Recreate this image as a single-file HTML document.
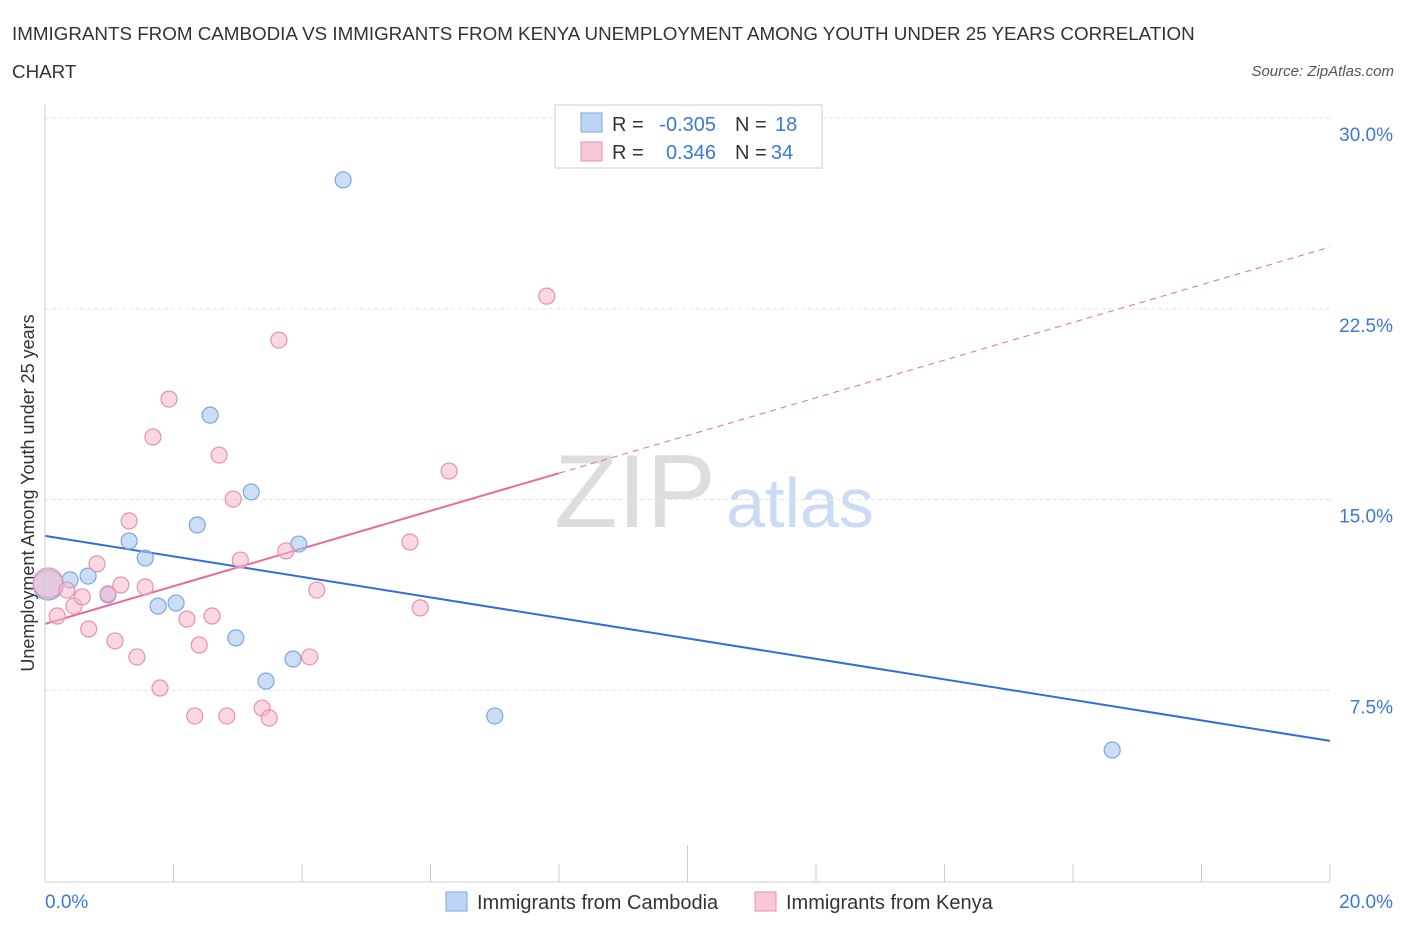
<!DOCTYPE html>
<html><head><meta charset="utf-8"><style>
body{margin:0;background:#fff;font-family:"Liberation Sans",sans-serif;}
svg text{font-family:"Liberation Sans",sans-serif;}
</style></head><body>
<svg id="c" width="1406" height="930" viewBox="0 0 1406 930">
<text x="12" y="40" font-size="18.8" fill="#333">IMMIGRANTS FROM CAMBODIA VS IMMIGRANTS FROM KENYA UNEMPLOYMENT AMONG YOUTH UNDER 25 YEARS CORRELATION</text>
<text x="12" y="78" font-size="18.8" fill="#333">CHART</text>
<text x="1394" y="76" font-size="15" fill="#555" font-style="italic" text-anchor="end">Source: ZipAtlas.com</text>
<text x="635" y="527" font-size="104" fill="#ddd" text-anchor="middle" font-family="Liberation Serif">ZIP</text>
<text x="800" y="527" font-size="70" fill="#c9dcf3" text-anchor="middle">atlas</text>
<text transform="translate(34,493) rotate(-90)" font-size="18" fill="#333" text-anchor="middle">Unemployment Among Youth under 25 years</text>
<g id="grid"></g><g id="lines"></g><g id="pts"></g>
<line x1="45" y1="105" x2="45" y2="882" stroke="#ccc"/>
<line x1="45" y1="882" x2="1330" y2="882" stroke="#ccc"/>
<text x="45" y="908" font-size="19" fill="#3b78d8">0.0%</text>
<text x="1393" y="908" font-size="19" fill="#3b78d8" text-anchor="end">20.0%</text>
<g>
<rect x="555" y="105" width="267" height="63" fill="#fff" stroke="#ccc"/>
<rect x="581" y="113" width="21" height="19" fill="#bcd5f5" stroke="#7aa7e0"/>
<rect x="581" y="142" width="21" height="19" fill="#f9c8d7" stroke="#e891ae"/>
<text x="612" y="131" font-size="20" fill="#333">R =</text>
<text x="716" y="131" font-size="20" fill="#3b78d8" text-anchor="end">-0.305</text>
<text x="735" y="131" font-size="20" fill="#333">N =</text>
<text x="775" y="131" font-size="20" fill="#3b78d8">18</text>
<text x="612" y="159" font-size="20" fill="#333">R =</text>
<text x="716" y="159" font-size="20" fill="#3b78d8" text-anchor="end">0.346</text>
<text x="735" y="159" font-size="20" fill="#333">N =</text>
<text x="771" y="159" font-size="20" fill="#3b78d8">34</text>
</g>
<g>
<rect x="446" y="892" width="21" height="19" fill="#bcd5f5" stroke="#7aa7e0"/>
<text x="477" y="909" font-size="20" fill="#333">Immigrants from Cambodia</text>
<rect x="755" y="892" width="21" height="19" fill="#f9c8d7" stroke="#e891ae"/>
<text x="786" y="909" font-size="20" fill="#333">Immigrants from Kenya</text>
</g>
</svg>
<script>
const yTicks=[7.5,15,22.5,30];
const yTickLabels=["7.5%","15.0%","22.5%","30.0%"];
const xTicks=[0,2,4,6,8,10,12,14,16,18,20];
const cambX=[0.05,0.39,0.67,0.98,1.31,1.56,1.76,2.04,2.37,2.57,2.97,3.21,3.44,3.86,3.95,4.64,7.00,16.61];
const cambY=[11.64,11.84,11.99,11.25,13.37,12.70,10.81,10.93,14.00,18.32,9.56,15.30,7.86,8.73,13.25,27.57,6.49,5.15];
const kenX=[0.05,0.19,0.34,0.45,0.58,0.68,0.81,0.98,1.09,1.18,1.31,1.43,1.56,1.68,1.79,1.93,2.21,2.33,2.40,2.60,2.71,2.83,2.93,3.04,3.38,3.49,3.64,3.75,4.12,4.23,5.68,5.84,6.29,7.81];
const kenY=[11.72,10.42,11.44,10.81,11.17,9.91,12.47,11.29,9.44,11.64,14.16,8.81,11.56,17.46,7.59,18.95,10.30,6.49,9.28,10.42,16.75,6.49,15.02,12.62,6.80,6.41,21.27,12.98,8.81,11.44,13.33,10.74,16.12,23.00];
const cambTrend=[13.57,5.51];
const kenTrend=[10.11,24.93];
const kenSolidEnd=8;
const X=v=>45+v*64.25, Y=v=>881-v*25.43;
const NS="http://www.w3.org/2000/svg";
function mk(t,a,p){const e=document.createElementNS(NS,t);for(const k in a)e.setAttribute(k,a[k]);p.appendChild(e);return e;}
const g=document.getElementById('grid'),L=document.getElementById('lines'),P=document.getElementById('pts');
yTicks.forEach((t,i)=>{
 const l=mk('line',{x1:45,x2:1330,y1:Y(t),y2:Y(t),stroke:'#e3e3e3','stroke-dasharray':'4 3'},g);
 
 
 const tx=mk('text',{x:1393,y:Y(t)+23,'font-size':19,fill:'#3b78d8','text-anchor':'end'},g);
 tx.textContent=yTickLabels[i];
 
 
});
xTicks.forEach(t=>{
 const l=mk('line',{x1:X(t),x2:X(t),y1:t==10?845:864,y2:882,stroke:'#ccc'},g);
 
 
});
const slope=(kenTrend[1]-kenTrend[0])/20;
let l1=mk('line',{x1:X(0),y1:Y(cambTrend[0]),x2:X(20),y2:Y(cambTrend[1]),stroke:'#2f6fdb','stroke-width':2},L);


let l2=mk('line',{x1:X(0),y1:Y(kenTrend[0]),x2:X(kenSolidEnd),y2:Y(kenTrend[0]+slope*kenSolidEnd),stroke:'#e86b96','stroke-width':2},L);


let l3=mk('line',{x1:X(kenSolidEnd),y1:Y(kenTrend[0]+slope*kenSolidEnd),x2:X(20),y2:Y(kenTrend[1]),stroke:'#e86b96','stroke-width':1,'stroke-dasharray':'6 5'},L);


cambX.forEach((x,i)=>{
 const c=mk('circle',{cx:X(x),cy:Y(cambY[i]),r:i==0?15:8,fill:'rgba(169,200,240,0.6)',stroke:'#7aa7e0','stroke-width':1.2},P);
 
 
});
kenX.forEach((x,i)=>{
 const c=mk('circle',{cx:X(x),cy:Y(kenY[i]),r:i==0?15:8,fill:'rgba(245,184,204,0.55)',stroke:'#e891ae','stroke-width':1.2},P);
 
 
});
</script>
</body></html>
